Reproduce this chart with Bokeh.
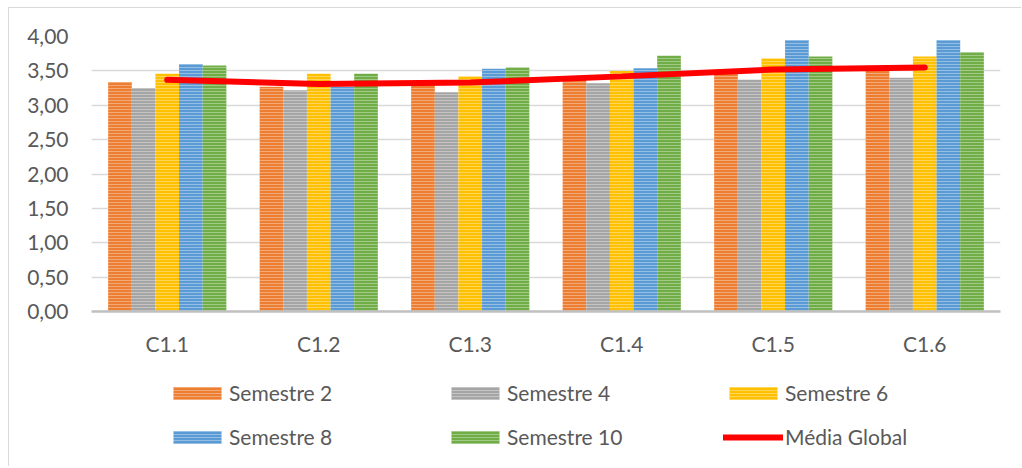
from bokeh.plotting import figure
from bokeh.layouts import column
from bokeh.models import FactorRange, Range1d, FixedTicker, Legend, LegendItem, ColumnDataSource
from bokeh.transform import dodge
from bokeh.embed import file_html
from bokeh.resources import INLINE

categories = ["C1.1", "C1.2", "C1.3", "C1.4", "C1.5", "C1.6"]
semestre_2 = [3.34, 3.27, 3.30, 3.37, 3.47, 3.50]
semestre_4 = [3.25, 3.22, 3.19, 3.32, 3.37, 3.40]
semestre_6 = [3.46, 3.46, 3.42, 3.50, 3.68, 3.71]
semestre_8 = [3.60, 3.27, 3.53, 3.54, 3.95, 3.95]
semestre_10 = [3.58, 3.46, 3.55, 3.72, 3.71, 3.77]
media_global = [3.37, 3.31, 3.33, 3.42, 3.52, 3.55]

series_names = ["Semestre 2", "Semestre 4", "Semestre 6", "Semestre 8", "Semestre 10"]
series_colors = ["#ED7D31", "#A5A5A5", "#FFC000", "#5B9BD5", "#70AD47"]
line_name = "Média Global"
line_color = "#FF0000"

y_ticks = [0.0, 0.5, 1.0, 1.5, 2.0, 2.5, 3.0, 3.5, 4.0]
y_tick_labels = ["0,00", "0,50", "1,00", "1,50", "2,00", "2,50", "3,00", "3,50", "4,00"]

FONT = "Lato"
TXT = "#595959"
FS = "21px"

src = ColumnDataSource(dict(
    cat=categories,
    s2=semestre_2, s4=semestre_4, s6=semestre_6, s8=semestre_8, s10=semestre_10,
    media=media_global,
))
keys = ["s2", "s4", "s6", "s8", "s10"]

BAR_STYLE = dict(line_color=None, hatch_pattern="horizontal_line", hatch_color="white",
                 hatch_alpha=0.35, hatch_scale=3, hatch_weight=1)
bw = 0.156
x_range = FactorRange(*categories)


def add_series(fig):
    bars = []
    for i, (k, c) in enumerate(zip(keys, series_colors)):
        bars.append(fig.vbar(x=dodge("cat", (i - 2) * bw, range=x_range), top=k, width=bw,
                             source=src, fill_color=c, **BAR_STYLE))
    ln = fig.line(x="cat", y="media", source=src, line_color=line_color, line_width=6,
                  line_cap="round")
    return bars, ln


p = figure(
    x_range=x_range,
    y_range=Range1d(0, 4),
    width=1012, height=360,
    output_backend="svg", toolbar_location=None,
    min_border_left=82, min_border_right=21, min_border_top=28, min_border_bottom=57,
)
p.outline_line_color = None
p.background_fill_color = "white"
p.border_fill_color = "white"
add_series(p)

p.yaxis.ticker = FixedTicker(ticks=y_ticks)
p.yaxis.major_label_overrides = {t: l for t, l in zip(y_ticks, y_tick_labels)}
p.yaxis.axis_line_color = None
p.yaxis.major_tick_line_color = None
p.yaxis.minor_tick_line_color = None
p.yaxis.major_tick_out = 0
p.yaxis.major_label_standoff = 23
p.yaxis.major_label_text_font = FONT
p.yaxis.major_label_text_font_size = FS
p.yaxis.major_label_text_color = TXT

p.xaxis.axis_line_color = "#BFBFBF"
p.xaxis.axis_line_width = 2.5
p.xaxis.major_tick_line_color = None
p.xaxis.major_tick_out = 0
p.xaxis.major_label_standoff = 19
p.xaxis.major_label_text_font = FONT
p.xaxis.major_label_text_font_size = FS
p.xaxis.major_label_text_color = TXT

p.xgrid.grid_line_color = None
p.ygrid.grid_line_color = "#D9D9D9"
p.ygrid.grid_line_width = 1.5

# legend panel: a second figure whose view range shows none of the marks,
# so only its (unclipped) legend is visible
lf = figure(width=1012, height=98, x_range=x_range, y_range=Range1d(10, 11),
            output_backend="svg", toolbar_location=None,
            min_border_left=0, min_border_right=0, min_border_top=0, min_border_bottom=0)
lf.axis.visible = False
lf.grid.visible = False
lf.outline_line_color = None
lf.border_fill_color = "white"
lbars, lline = add_series(lf)

items = [LegendItem(label=n, renderers=[r]) for n, r in zip(series_names, lbars)]
items.append(LegendItem(label=line_name, renderers=[lline]))

legend = Legend(
    items=items, orientation="horizontal", ncols=3,
    location=(76, 17), border_line_color=None, background_fill_alpha=0,
    padding=0, margin=0, spacing=19,
    glyph_width=60, glyph_height=16, label_height=13, label_width=197, label_standoff=2,
    label_text_font=FONT, label_text_font_size=FS, label_text_color=TXT,
)
lf.add_layout(legend, "center")

layout = column(p, lf, spacing=0)
layout.styles = {"border-left": "1px solid #D9D9D9", "border-top": "1px solid #D9D9D9",
                 "margin-left": "8px", "margin-top": "7px"}

open("out.html", "w").write(file_html(layout, INLINE))
